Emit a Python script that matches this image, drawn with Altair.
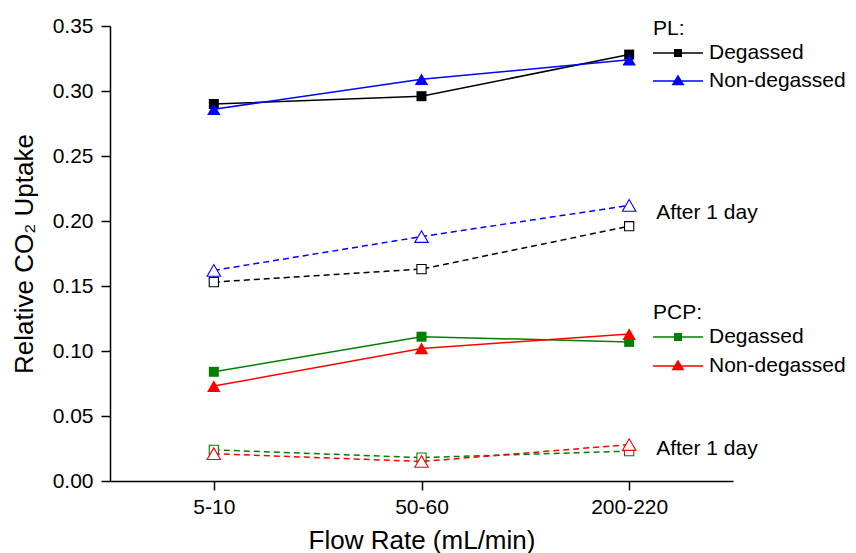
import altair as alt
import pandas as pd

# ---- data ----
flow = ["5-10", "50-60", "200-220"]
pl_degassed = [0.290, 0.296, 0.328]
pl_nondegassed = [0.286, 0.309, 0.324]
pl_degassed_1day = [0.153, 0.163, 0.196]
pl_nondegassed_1day = [0.162, 0.188, 0.212]
pcp_degassed = [0.084, 0.111, 0.107]
pcp_nondegassed = [0.073, 0.102, 0.113]
pcp_degassed_1day = [0.024, 0.018, 0.023]
pcp_nondegassed_1day = [0.021, 0.015, 0.028]

note_text = ["After 1 day", "After 1 day"]
note_flow = ["200-220", "200-220"]
note_value = [0.206, 0.025]

y_ticks = [0.0, 0.025, 0.05, 0.075, 0.10, 0.125, 0.15, 0.175, 0.20, 0.225,
           0.25, 0.275, 0.30, 0.325, 0.35]

rows = []
for grp, trt, when, vals in [
    ("PL", "Degassed", "fresh", pl_degassed),
    ("PL", "Non-degassed", "fresh", pl_nondegassed),
    ("PL", "Degassed", "after", pl_degassed_1day),
    ("PL", "Non-degassed", "after", pl_nondegassed_1day),
    ("PCP", "Degassed", "fresh", pcp_degassed),
    ("PCP", "Non-degassed", "fresh", pcp_nondegassed),
    ("PCP", "Degassed", "after", pcp_degassed_1day),
    ("PCP", "Non-degassed", "after", pcp_nondegassed_1day),
]:
    for f, v in zip(flow, vals):
        rows.append({"flow": f, "value": v, "group": grp, "treatment": trt, "when": when})
df = pd.DataFrame(rows)
notes = pd.DataFrame({"flow": note_flow, "value": note_value, "text": note_text})

FONT = "Liberation Sans"

x_enc = alt.X(
    "flow:N", sort=flow,
    scale=alt.Scale(type="point", padding=0.5),
    axis=alt.Axis(title="Flow Rate (mL/min)", labelAngle=0, tickSize=9,
                  labelPadding=6, titlePadding=10),
)
y_enc = alt.Y(
    "value:Q",
    scale=alt.Scale(domain=[0, 0.35], nice=False, zero=True),
    axis=alt.Axis(
        title="Relative CO₂ Uptake",
        values=y_ticks,
        labelExpr="round(datum.value*1000) % 50 == 0 ? format(datum.value, '.2f') : ''",
        tickSize={"condition": {"test": "round(datum.value*1000) % 50 != 0", "value": 4.5}, "value": 9},
        labelPadding=8, titlePadding=15,
    ),
)

LINE = "M-1,-0.03L1,-0.03L1,0.03L-1,0.03Z "
SQ = LINE + "M-0.16,-0.16L0.16,-0.16L0.16,0.16L-0.16,0.16Z"
TRI = LINE + "M0,-0.26L0.26,0.17L-0.26,0.17Z"


def series_layer(gname, trt, color_hex, shape, size_f, size_a, title, ly):
    sym = SQ if shape == "square" else TRI
    legend = alt.Legend(
        orient="none", legendX=543, legendY=ly, title=title,
        titleFont=FONT, titleFontSize=21, titleFontWeight="normal", titleColor="black",
        titlePadding=0, labelFont=FONT, labelFontSize=21, labelColor="black",
        symbolType=sym, symbolSize=2500, clipHeight=28, labelOffset=6, padding=0,
        symbolFillColor=color_hex, symbolStrokeColor=color_hex, symbolStrokeWidth=0,
        symbolOpacity=1,
    )
    scale = alt.Scale(domain=[trt], range=[color_hex])
    color = alt.Color("treatment:N", scale=scale, legend=legend)
    base = alt.Chart(df).transform_filter(
        (alt.datum.group == gname) & (alt.datum.treatment == trt))
    fresh = base.transform_filter(alt.datum.when == "fresh")
    after = base.transform_filter(alt.datum.when == "after")
    line_after = after.mark_line(strokeWidth=1.5, strokeDash=[6, 4]).encode(x=x_enc, y=y_enc, color=color)
    line_fresh = fresh.mark_line(strokeWidth=1.5).encode(x=x_enc, y=y_enc, color=color)
    pts_after = after.mark_point(filled=False, fill="white", strokeWidth=1.1, opacity=1,
                                 shape=shape, size=size_a).encode(x=x_enc, y=y_enc, color=color)
    pts_fresh = fresh.mark_point(filled=True, opacity=1, shape=shape, size=size_f).encode(
        x=x_enc, y=y_enc, color=color)
    return alt.layer(line_after, line_fresh, pts_after, pts_fresh)


layers = [
    series_layer("PL", "Degassed", "#000000", "square", 100, 85, "PL:", -8),
    series_layer("PL", "Non-degassed", "#0000ff", "triangle-up", 180, 180, None, 41),
    series_layer("PCP", "Degassed", "#008000", "square", 100, 85, "PCP:", 276),
    series_layer("PCP", "Non-degassed", "#ff0000", "triangle-up", 180, 180, None, 326),
]

text = alt.Chart(notes).mark_text(align="left", baseline="middle", dx=27, font=FONT,
                                  fontSize=21, color="black").encode(
    x=alt.X("flow:N", sort=flow), y=alt.Y("value:Q"), text="text:N")

chart = alt.layer(*layers, text).resolve_scale(color="independent").properties(
    width=623, height=455,
    autosize=alt.AutoSizeParams(type="none"),
    padding={"left": 110, "top": 26, "right": 123, "bottom": 72},
    background="white",
).configure_view(stroke=None).configure_axis(
    grid=False, domainColor="black", domainWidth=1.5, tickColor="black", tickWidth=1.5,
    labelColor="black", titleColor="black", labelFont=FONT, titleFont=FONT,
    labelFontSize=21, titleFontSize=26, titleFontWeight="normal",
)

chart.save("out.html", embed_options={"renderer": "svg", "actions": False})
